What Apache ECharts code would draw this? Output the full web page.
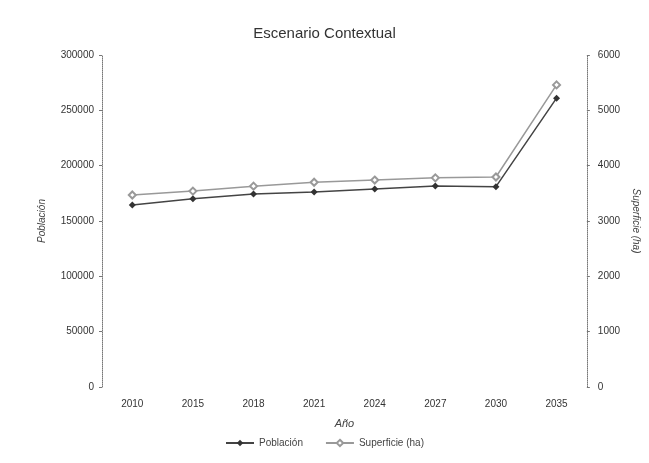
<!DOCTYPE html>
<html>
<head>
<meta charset="utf-8">
<script src="https://cdn.jsdelivr.net/npm/echarts@6/dist/echarts.min.js"></script>
<style>
  html, body { margin: 0; padding: 0; background: #fff; }
  #chart { width: 649px; height: 463px; }
</style>
</head>
<body>
<div id="chart"></div>
<script>
  // datos
  var anios = ['2010', '2015', '2018', '2021', '2024', '2027', '2030', '2035'];
  var poblacion = [164500, 170000, 174400, 176200, 178900, 181600, 181000, 261000];
  var superficie = [3470, 3540, 3630, 3700, 3740, 3780, 3795, 5460];

  var fuente = 'Liberation Sans';
  var gris = '#444';

  var myChart = echarts.init(document.getElementById('chart'));
  var option = {
    animation: false,
    backgroundColor: '#fff',
    textStyle: { fontFamily: fuente },
    title: {
      text: 'Escenario Contextual',
      left: 'center',
      top: 21,
      textStyle: { fontSize: 15, fontWeight: 'normal', color: '#333', fontFamily: fuente }
    },
    legend: {
      bottom: 10,
      left: 'center',
      itemWidth: 28,
      itemHeight: 8,
      itemGap: 22,
      textStyle: { fontSize: 10, color: '#444' },
      data: ['Población', 'Superficie (ha)']
    },
    grid: { left: 102, right: 60, top: 55, bottom: 76 },
    xAxis: {
      type: 'category',
      data: anios,
      name: 'Año',
      nameLocation: 'middle',
      nameGap: 31,
      nameTextStyle: { fontStyle: 'italic', fontSize: 11, color: '#444' },
      axisLine: { show: false },
      axisTick: { show: false },
      axisLabel: { fontSize: 10, color: '#333', margin: 12 }
    },
    yAxis: [{
      type: 'value',
      min: 0,
      max: 300000,
      interval: 50000,
      name: 'Población',
      nameLocation: 'middle',
      nameGap: 55,
      nameTextStyle: { fontStyle: 'italic', fontSize: 10, color: '#444' },
      splitLine: { show: false },
      axisLine: { show: true, lineStyle: { color: '#777', type: 'dotted', width: 1 } },
      axisTick: { show: true, length: 3, lineStyle: { color: '#777' } },
      axisLabel: { fontSize: 10, color: '#333', margin: 8, formatter: function (v) { return String(v); } }
    }, {
      type: 'value',
      min: 0,
      max: 6000,
      interval: 1000,
      position: 'right',
      name: 'Superficie (ha)',
      nameLocation: 'middle',
      nameRotate: -90,
      nameGap: 41,
      nameTextStyle: { fontStyle: 'italic', fontSize: 10, color: '#444' },
      splitLine: { show: false },
      axisLine: { show: true, lineStyle: { color: '#777', type: 'dotted', width: 1 } },
      axisTick: { show: true, length: 3, lineStyle: { color: '#777' } },
      axisLabel: { fontSize: 10, color: '#333', margin: 11, formatter: function (v) { return String(v); } }
    }],
    series: [{
      name: 'Población',
      type: 'line',
      yAxisIndex: 0,
      data: poblacion,
      symbol: 'diamond',
      symbolSize: 7,
      lineStyle: { color: gris, width: 1.5 },
      itemStyle: { color: '#333' }
    }, {
      name: 'Superficie (ha)',
      type: 'line',
      yAxisIndex: 1,
      data: superficie,
      symbol: 'emptyDiamond',
      symbolSize: 7,
      lineStyle: { color: '#999', width: 1.5 },
      itemStyle: { color: '#999', borderColor: '#888' }
    }]
  };
  myChart.setOption(option);
</script>
</body>
</html>
